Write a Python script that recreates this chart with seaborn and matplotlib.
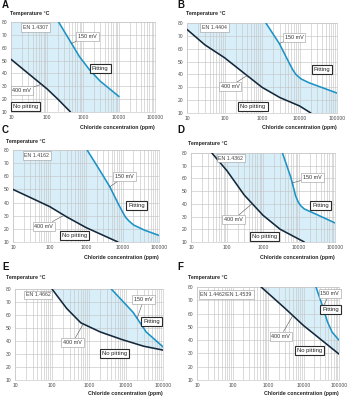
import numpy as np
import matplotlib
matplotlib.use("Agg")
import matplotlib.pyplot as plt
import seaborn as sns
from matplotlib.ticker import LogLocator, FixedLocator, NullFormatter

# ---------------- data ----------------
panel_letters = ["A", "B", "C", "D", "E", "F"]
grades = ["EN 1.4307", "EN 1.4404", "EN 1.4162", "EN 1.4362", "EN 1.4662",
          "EN 1.4462/EN 1.4539"]

x_ticks = [10, 100, 1000, 10000, 100000]
x_tick_labels = ["10", "100", "1000", "10000", "100000"]
y_ticks = [10, 20, 30, 40, 50, 60, 70, 80]

# 400 mV curves (chloride ppm, temperature °C)
a_x400 = [10, 30, 100, 200, 450]
a_t400 = [51, 40, 28, 20, 10]
b_x400 = [10, 30, 100, 300, 1000, 3000, 10000, 20000]
b_t400 = [75, 63, 53, 42, 30, 22, 15.5, 10]
c_x400 = [10, 100, 300, 1000, 3000, 7500]
c_t400 = [50, 37, 29, 21, 15, 10]
d_x400 = [38, 100, 300, 1000, 3000, 14000]
d_t400 = [80, 66, 47, 31, 20, 10]
e_x400 = [100, 250, 600, 2000, 8000, 30000, 100000]
e_t400 = [80, 65, 54, 47, 41, 36, 33]
f_x400 = [640, 3000, 10000, 100000]
f_t400 = [80, 64, 51, 29.5]

# 150 mV curves
a_x150 = [210, 400, 800, 1500, 3000, 10000]
a_t150 = [80, 67, 53, 43, 34, 22]
b_x150 = [1270, 2900, 5400, 6500, 8000, 11000, 18000, 100000]
b_t150 = [80, 64, 48.5, 44, 40, 36.5, 33.5, 25.5]
c_x150 = [1070, 2000, 4500, 8000, 10000, 12000, 15000, 20000, 40000, 100000]
c_t150 = [80, 68, 52, 38, 33, 29, 26, 23, 19, 15]
d_x150 = [3470, 5900, 8100, 9500, 11200, 14000, 29000, 100000]
d_t150 = [80, 61, 46, 41.5, 38.5, 36, 32, 25]
e_x150 = [4000, 15600, 35000, 100000]
e_t150 = [80, 62, 47, 35.5]
f_x150 = [22500, 34000, 47000, 64000, 100000]
f_t150 = [80, 66, 54, 46, 40]

curves400 = [(a_x400, a_t400), (b_x400, b_t400), (c_x400, c_t400),
             (d_x400, d_t400), (e_x400, e_t400), (f_x400, f_t400)]
curves150 = [(a_x150, a_t150), (b_x150, b_t150), (c_x150, c_t150),
             (d_x150, d_t150), (e_x150, e_t150), (f_x150, f_t150)]

# label anchor positions (data coords) : grade, 150mV, Pitting, 400mV, No pitting
label_pos = [
    [(47, 75.5), (1350, 69), (3000, 44), (20, 26.5), (25, 14)],
    [(54, 76.5), (7100, 69), (40000, 44), (140, 30.6), (575, 14.7)],
    [(45, 76), (11400, 60), (24000, 37.5), (70, 22), (490, 15)],
    [(128, 76), (23500, 61), (40000, 39), (150, 27.5), (1080, 14)],
    [(42, 75.5), (30000, 72), (49000, 55), (360, 38.8), (5000, 30.4)],
    [(66, 74.5), (55000, 75), (58000, 63), (2300, 43), (14400, 32.5)],
]
# x where the leader lines touch the curves (150 mV, 400 mV)
leader_x = [(480, 70), (2900, 400), (4500, 250), (6500, 500), (20000, 700), (35000, 5000)]

# axes placement in pixels (left, top, right, bottom)
ax_px = [(11, 22, 155, 112), (187, 23, 337, 113), (13, 150, 159, 242),
         (191, 153, 335, 242), (15, 289, 163, 380), (197, 287, 339, 380)]
letter_px = [(2, 5), (177, 5), (2, 130), (177, 130), (2, 267), (177, 267)]
temp_px = [(10, 13), (186, 13), (6, 141), (188, 144), (6, 277), (188, 277)]
xlab_y = [127, 128, 257, 258, 394, 394]

# ---------------- styling ----------------
sns.set_theme(style="white")
plt.rcParams["font.family"] = ["Liberation Sans", "DejaVu Sans"]

W, H = 353, 400
fig = plt.figure(figsize=(W / 100, H / 100), dpi=100)

C400 = "#14283b"
C150 = "#1b93c6"
SHADE = "#d8eff9"
GRID = "#c6c6c6"


def fx(px):
    return px / W


def fy(py):
    return 1 - py / H


for i in range(6):
    l, t, r, b = ax_px[i]
    ax = fig.add_axes([fx(l), fy(b), fx(r) - fx(l), fy(t) - fy(b)])
    ax.set_xscale("log")
    ax.set_xlim(10, 100000)
    ax.set_ylim(10, 80)

    x4, t4 = curves400[i]
    x1, t1 = curves150[i]

    # shading between the two curves
    xs = np.logspace(np.log10(x4[0]), np.log10(x1[-1]), 600)
    lower = np.interp(np.log10(xs), np.log10(x4), t4, left=80, right=10)
    upper = np.interp(np.log10(xs), np.log10(x1), t1, left=80, right=np.nan)
    ax.fill_between(xs, lower, upper, where=upper >= lower, color=SHADE,
                    lw=0, zorder=0)

    # grid
    ax.xaxis.set_major_locator(FixedLocator(x_ticks))
    ax.xaxis.set_minor_locator(LogLocator(base=10, subs=range(2, 10)))
    ax.xaxis.set_minor_formatter(NullFormatter())
    ax.set_xticks(x_ticks)
    ax.set_xticklabels(x_tick_labels)
    ax.set_yticks(y_ticks)
    ax.grid(which="both", axis="x", color=GRID, lw=0.45, zorder=1)
    ax.grid(which="major", axis="y", color=GRID, lw=0.45, zorder=1)
    ax.set_axisbelow(True)
    for s in ax.spines.values():
        s.set_color(GRID)
        s.set_linewidth(0.45)
    ax.tick_params(axis="both", which="both", length=0, labelsize=3.6,
                   colors="#4a4a4a", pad=2.5)

    # curves
    sns.lineplot(x=x4, y=t4, ax=ax, color=C400, lw=1.15, zorder=4)
    sns.lineplot(x=x1, y=t1, ax=ax, color=C150, lw=1.15, zorder=4)
    ax.set_xlabel("")
    ax.set_ylabel("")

    lp = label_pos[i]
    thin = dict(boxstyle="square,pad=0.35", fc="white", ec="#9a9a9a", lw=0.4)
    thick = dict(boxstyle="square,pad=0.35", fc="white", ec="#2a2a2a", lw=0.8)
    ax.text(*lp[0], grades[i], fontsize=3.8, color="#444444", ha="center",
            va="center", bbox=thin, zorder=6)
    lx150, lx400 = leader_x[i]
    y150 = np.interp(np.log10(lx150), np.log10(x1), t1)
    y400 = np.interp(np.log10(lx400), np.log10(x4), t4)
    ax.annotate("150 mV", xy=(lx150, y150), xytext=lp[1], fontsize=3.9,
                color="#333333", ha="center", va="center", bbox=thin, zorder=6,
                arrowprops=dict(arrowstyle="-", color="#555555", lw=0.4,
                                shrinkA=0, shrinkB=0))
    ax.annotate("400 mV", xy=(lx400, y400), xytext=lp[3], fontsize=3.9,
                color="#333333", ha="center", va="center", bbox=thin, zorder=6,
                arrowprops=dict(arrowstyle="-", color="#555555", lw=0.4,
                                shrinkA=0, shrinkB=0))
    ax.text(*lp[2], "Pitting", fontsize=4.2, color="#222222", ha="center",
            va="center", bbox=thick, zorder=6)
    ax.text(*lp[4], "No pitting", fontsize=4.2, color="#222222", ha="center",
            va="center", bbox=thick, zorder=6)

    # panel texts
    fig.text(fx(letter_px[i][0]), fy(letter_px[i][1]), panel_letters[i],
             fontsize=7, fontweight="bold", ha="left", va="center", color="#111111")
    fig.text(fx(temp_px[i][0]), fy(temp_px[i][1]), "Temperature °C",
             fontsize=3.8, fontweight="bold", ha="left", va="center", color="#222222")
    fig.text(fx(r), fy(xlab_y[i]), "Chloride concentration (ppm)",
             fontsize=3.8, fontweight="bold", ha="right", va="center", color="#222222")

fig.savefig("out.png", dpi=100)
